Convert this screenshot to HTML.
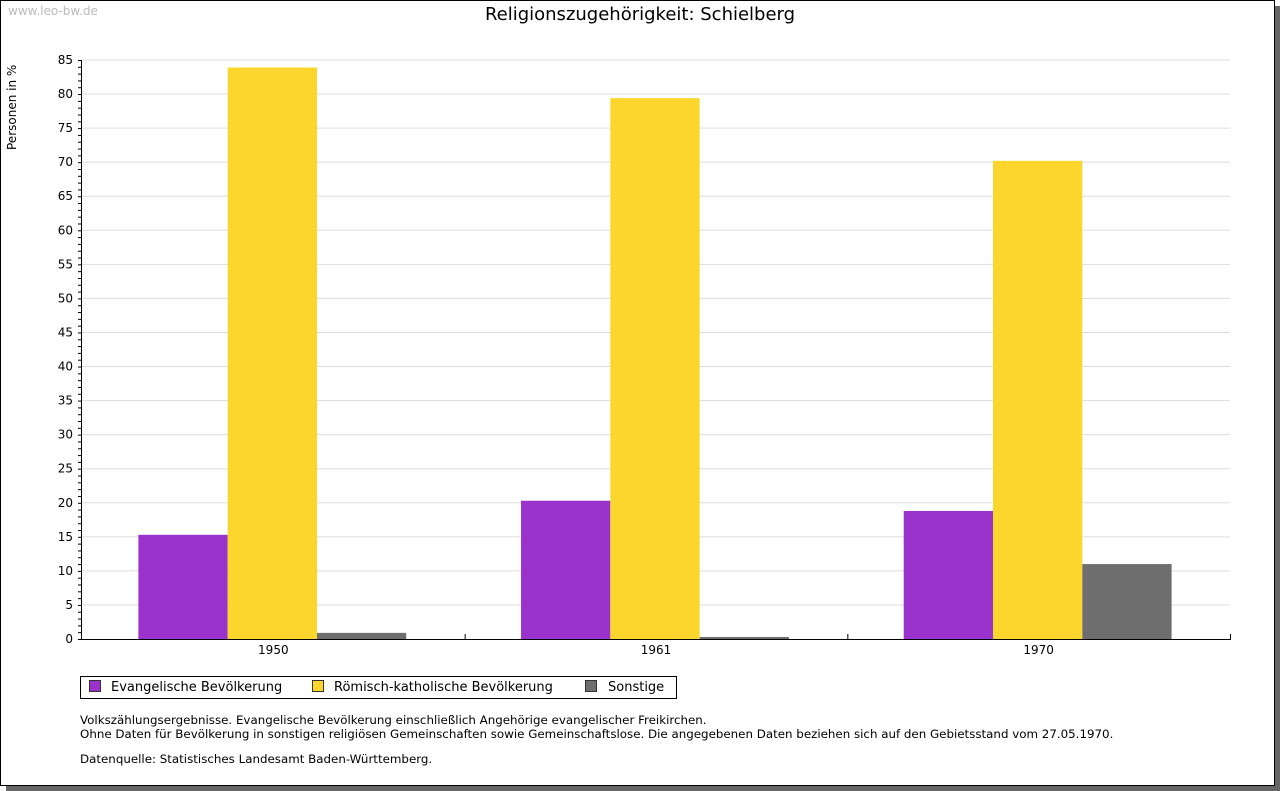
<!DOCTYPE html>
<html><head><meta charset="utf-8"><style>
body{margin:0;background:#fff;width:1280px;height:791px;overflow:hidden;font-family:"DejaVu Sans","Liberation Sans",sans-serif}
#frame{position:absolute;left:0;top:0;width:1273px;height:784px;border:1px solid #000;background:#fff;box-shadow:6px 6px 0 #666}
.t{position:absolute;font-size:12px;color:#000;white-space:nowrap}
.lg{font-size:13px}
</style></head><body>
<div id="frame"></div>
<div class="t" style="left:8px;top:4px;color:#bbb">www.leo-bw.de</div>
<div class="t" style="left:0;width:1280px;text-align:center;top:4px;font-size:18px">Religionszugehörigkeit: Schielberg</div>
<svg id="c" width="1280" height="791" style="position:absolute;left:0;top:0" font-family="DejaVu Sans, Liberation Sans, sans-serif" font-size="12">
<text transform="translate(16,150) rotate(-90)">Personen in %</text>
</svg>
<div style="position:absolute;left:80px;top:676px;width:595px;height:21px;border:1px solid #000"></div>
<div class="t lg" style="left:89px;top:680px"><span style="display:inline-block;width:10px;height:10px;background:#9933cc;border:1px solid #333;vertical-align:-1px;margin-right:10px"></span>Evangelische Bevölkerung</div>
<div class="t lg" style="left:312px;top:680px"><span style="display:inline-block;width:10px;height:10px;background:#fcd52d;border:1px solid #333;vertical-align:-1px;margin-right:10px"></span>Römisch-katholische Bevölkerung</div>
<div class="t lg" style="left:585px;top:680px"><span style="display:inline-block;width:10px;height:10px;background:#6e6e6e;border:1px solid #333;vertical-align:-1px;margin-right:11px"></span>Sonstige</div>
<div class="t" style="left:80px;top:713px;line-height:14px;font-size:11.85px">Volkszählungsergebnisse. Evangelische Bevölkerung einschließlich Angehörige evangelischer Freikirchen.<br>Ohne Daten für Bevölkerung in sonstigen religiösen Gemeinschaften sowie Gemeinschaftslose. Die angegebenen Daten beziehen sich auf den Gebietsstand vom 27.05.1970.</div>
<div class="t" style="left:80px;top:752px;font-size:11.85px">Datenquelle: Statistisches Landesamt Baden-Württemberg.</div>
<script>
const categories=["1950","1961","1970"];
const evangelisch=[15.3,20.3,18.8];
const katholisch=[83.9,79.4,70.2];
const sonstige=[0.9,0.3,11.0];
const yTicks=[0,5,10,15,20,25,30,35,40,45,50,55,60,65,70,75,80,85];
const svg=document.getElementById('c');const NS='http://www.w3.org/2000/svg';
const x0=82,x1=1230,y0=639,yTop=60,yMax=85;
const y=v=>y0-(v/yMax)*(y0-yTop);
const gw=(x1-x0)/categories.length;
function mk(t,a){const e=document.createElementNS(NS,t);for(const k in a)e.setAttribute(k,a[k]);svg.appendChild(e);return e;}
yTicks.forEach(v=>{
 if(v>0){const g=mk('line',{x1:x0,x2:x1,y1:y(v),y2:y(v),stroke:'#ddd'});
 
 }
 const t=mk('text',{x:x0-9,y:y(v)+4,'text-anchor':'end'});t.textContent=v;
 
 
});
for(let v=0;v<=yMax;v++){mk('line',{x1:x0-4,x2:x0,y1:y(v)+.5,y2:y(v)+.5,stroke:'#000'});}
const series=[[evangelisch,'#9933cc','evangelisch'],[katholisch,'#fcd52d','katholisch'],[sonstige,'#6e6e6e','sonstige']];
const bw=89.3;
categories.forEach((c,i)=>{
 const gx=x0+i*gw;const start=gx+(gw-3*bw)/2-1;
 series.forEach(([arr,col,nm],j)=>{
  const r=mk('rect',{x:start+j*bw,y:y(arr[i]),width:bw,height:y0-y(arr[i]),fill:col});
  
  
 });
 const t=mk('text',{x:gx+gw/2,y:y0+15,'text-anchor':'middle'});t.textContent=c;
 
 
 mk('line',{x1:gx+gw+.5,x2:gx+gw+.5,y1:y0-5,y2:y0,stroke:'#000'});
});
const ax=mk('line',{x1:x0-.5,x2:x0-.5,y1:yTop,y2:y0,stroke:'#000'});


const bx=mk('line',{x1:x0-1,x2:x1+1,y1:y0+.5,y2:y0+.5,stroke:'#000'});


</script>
</body></html>
